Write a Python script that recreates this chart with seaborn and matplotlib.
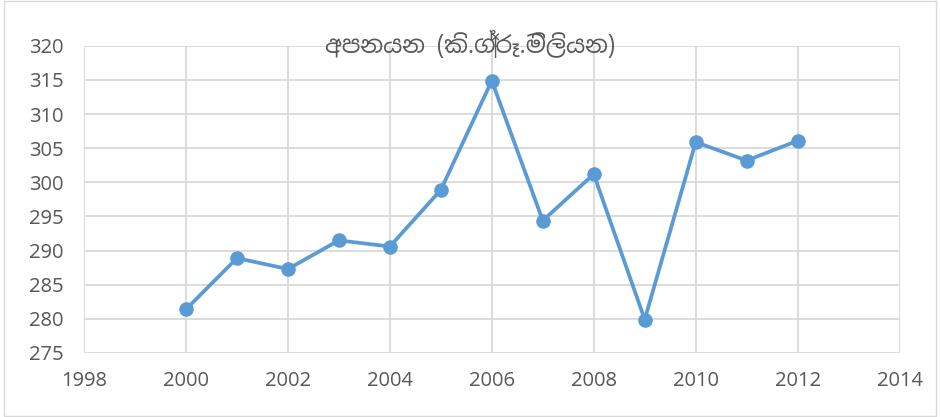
import matplotlib
matplotlib.use("Agg")
import matplotlib.pyplot as plt
from matplotlib import font_manager
import seaborn as sns
import pandas as pd

years = [2000, 2001, 2002, 2003, 2004, 2005, 2006, 2007, 2008, 2009, 2010, 2011, 2012]
exports = [281.4, 288.9, 287.3, 291.5, 290.6, 298.9, 314.9, 294.4, 301.2, 279.9, 305.9, 303.2, 306.1]
title = "අපනයන (කි.ග්‍රෑ.මිලියන)"

df = pd.DataFrame({"year": years, "value": exports})

sns.set_style("white")
# look for a font with Sinhala glyphs, fall back to sans
names = sorted({f.name for f in font_manager.fontManager.ttflist})
sinhala = [n for n in names if "Sinhala" in n or "Iskoola" in n]
plt.rcParams['font.family'] = sinhala + ['Liberation Sans', 'DejaVu Sans']

fig = plt.figure(figsize=(9.4, 4.17), dpi=100)
ax = fig.add_axes([0.0894, 0.1535, 0.8676, 0.7365])

sns.lineplot(data=df, x="year", y="value", ax=ax, color="#5B9BD5",
             linewidth=2.7, marker="o", markersize=10.5, markeredgewidth=0)

ax.set_xlim(1998, 2014)
ax.set_ylim(275, 320)
ax.set_xticks(range(1998, 2015, 2))
ax.set_yticks(range(275, 321, 5))
ax.grid(True, color="#D9D9D9", linewidth=1.3)
ax.set_axisbelow(True)
for s in ax.spines.values():
    s.set_visible(False)
ax.tick_params(length=0, labelsize=14.5, labelcolor="#595959")
ax.tick_params(axis="y", pad=15)
ax.tick_params(axis="x", pad=13)
ax.set_xlabel("")
ax.set_ylabel("")

fig.text(0.5, 0.892, title, ha="center", va="center", fontsize=17, color="#595959")

fig.patches.append(plt.Rectangle((0.004, 0.002), 0.992, 0.996, transform=fig.transFigure,
                                 fill=False, edgecolor="#D9D9D9", linewidth=1))

fig.savefig("out.png", dpi=100)
